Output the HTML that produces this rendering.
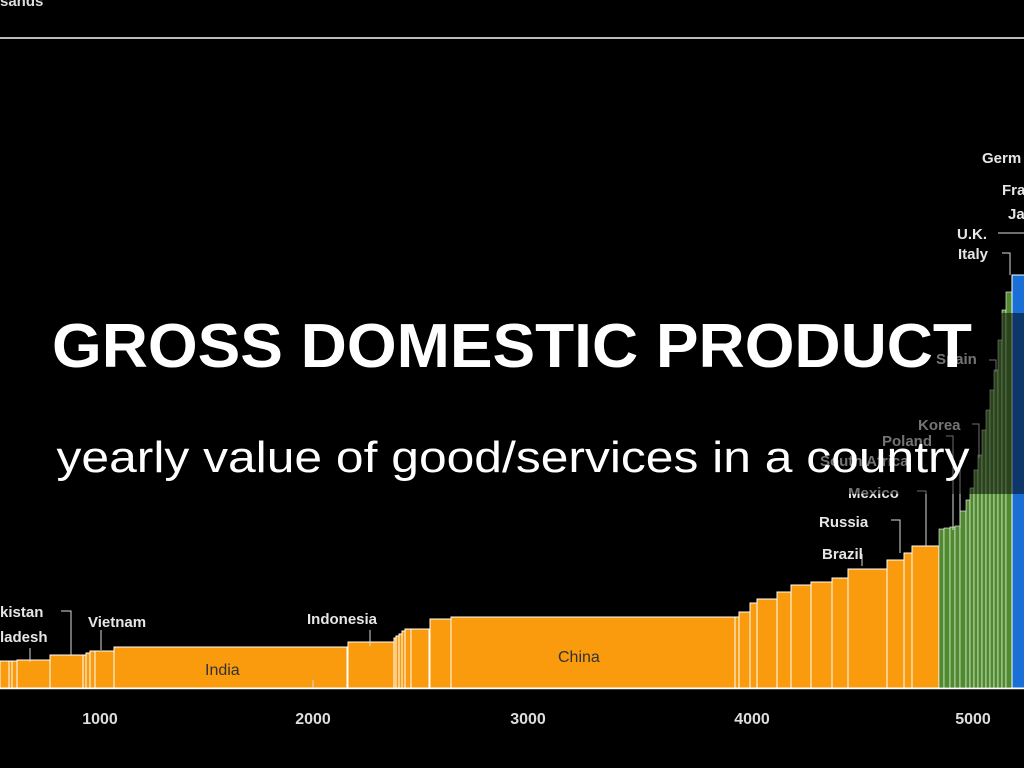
<!DOCTYPE html>
<html><head><meta charset="utf-8"><style>
html,body{margin:0;padding:0;background:#000;width:1024px;height:768px;overflow:hidden}
svg{display:block}
</style></head><body>
<svg width="1024" height="768" viewBox="0 0 1024 768" xmlns="http://www.w3.org/2000/svg" font-family="Liberation Sans, Arial, sans-serif">
<rect width="1024" height="768" fill="#000"/>
<text x="0" y="6" fill="#ddd" font-size="15" font-weight="bold">sands</text>
<line x1="0" y1="38" x2="1024" y2="38" stroke="#bbb" stroke-width="2"/>
<g stroke="#fff" stroke-width="1" fill="#f99b0c">
<rect x="0" y="661" width="9" height="27"/><rect x="9" y="661" width="3" height="27"/><rect x="12" y="661" width="5" height="27"/>
<rect x="17" y="660" width="33" height="28"/><rect x="50" y="655" width="33" height="33"/><rect x="83" y="655" width="3" height="33"/>
<rect x="86" y="653" width="4" height="35"/><rect x="90" y="651" width="5" height="37"/><rect x="95" y="651" width="19" height="37"/>
<rect x="114" y="647" width="233" height="41"/><rect x="348" y="642" width="46" height="46"/>
<rect x="394" y="638" width="2" height="50"/><rect x="396" y="636" width="3" height="52"/><rect x="399" y="634" width="3" height="54"/>
<rect x="402" y="631" width="3" height="57"/><rect x="405" y="629" width="6" height="59"/><rect x="411" y="629" width="18" height="59"/>
<rect x="430" y="619" width="21" height="69"/><rect x="451" y="617" width="284" height="71"/><rect x="735" y="617" width="4" height="71"/>
<rect x="739" y="612" width="11" height="76"/><rect x="750" y="603" width="7" height="85"/><rect x="757" y="599" width="20" height="89"/>
<rect x="777" y="592" width="14" height="96"/><rect x="791" y="585" width="20" height="103"/><rect x="811" y="582" width="21" height="106"/>
<rect x="832" y="578" width="16" height="110"/><rect x="848" y="569" width="39" height="119"/><rect x="887" y="560" width="17" height="128"/>
<rect x="904" y="553" width="8" height="135"/><rect x="912" y="546" width="27" height="142"/>
</g>
<g stroke="#fff" stroke-width="0.6" fill="#4f8a2f">
<rect x="939" y="529" width="5" height="159"/><rect x="944" y="528" width="6" height="160"/><rect x="950" y="527" width="5" height="161"/>
<rect x="955" y="526" width="5" height="162"/><rect x="960" y="511" width="6" height="177"/><rect x="966" y="500" width="4" height="188"/>
<rect x="970" y="488" width="4" height="200"/><rect x="974" y="470" width="4" height="218"/><rect x="978" y="455" width="4" height="233"/>
<rect x="982" y="430" width="4" height="258"/><rect x="986" y="410" width="4" height="278"/><rect x="990" y="390" width="4" height="298"/>
<rect x="994" y="370" width="4" height="318"/><rect x="998" y="340" width="4" height="348"/><rect x="1002" y="310" width="4" height="378"/>
<rect x="1006" y="292" width="6" height="396"/>
</g>
<rect x="1012" y="275" width="14" height="413" fill="#1a6fd6" stroke="#fff" stroke-width="1"/>
<line x1="0" y1="688.5" x2="1024" y2="688.5" stroke="#fff" stroke-width="1.5"/>
<g fill="#ddd" font-size="16" font-weight="bold" text-anchor="middle">
<text x="100" y="724">1000</text><text x="313" y="724">2000</text><text x="528" y="724">3000</text><text x="752" y="724">4000</text><text x="973" y="724">5000</text>
</g>
<g fill="#e6e6e6" font-size="15" font-weight="bold">
<text x="0" y="617">kistan</text><text x="0" y="642">ladesh</text>
<text x="88" y="627">Vietnam</text><text x="307" y="624">Indonesia</text>
<text x="820" y="466">South Africa</text><text x="882" y="446">Poland</text><text x="918" y="430">Korea</text>
<text x="936" y="364">Spain</text>
<text x="848" y="498">Mexico</text><text x="819" y="527">Russia</text><text x="822" y="559">Brazil</text>
<text x="957" y="239">U.K.</text><text x="958" y="259">Italy</text>
<text x="982" y="163">Germ</text><text x="1002" y="195">Fra</text><text x="1008" y="219">Ja</text>
</g>
<g fill="#333" font-size="16"><text x="205" y="675">India</text><text x="558" y="662">China</text></g>
<g stroke="#ddd" stroke-width="1" fill="none">
<path d="M61 611H71V656"/><path d="M30 648V662"/><path d="M101 630V650"/><path d="M370 630V646"/>
<path d="M891 520H900V553"/><path d="M862 554V566"/><path d="M917 491H926V546"/>
<path d="M946 436H953V530"/><path d="M960 460V528"/><path d="M972 424H979V458"/>
<path d="M989 360H996V372"/><path d="M998 233H1024"/><path d="M1002 253H1010V275"/>
<path d="M313 680V688"/>
</g>
<rect x="0" y="313" width="1024" height="181" fill="#000" fill-opacity="0.5"/>
<text x="512" y="367" fill="#fff" font-size="62" font-weight="bold" text-anchor="middle" textLength="920" lengthAdjust="spacingAndGlyphs">GROSS DOMESTIC PRODUCT</text>
<text x="513" y="472" fill="#fff" font-size="44" text-anchor="middle" textLength="913" lengthAdjust="spacingAndGlyphs">yearly value of good/services in a country</text>
</svg>
</body></html>
